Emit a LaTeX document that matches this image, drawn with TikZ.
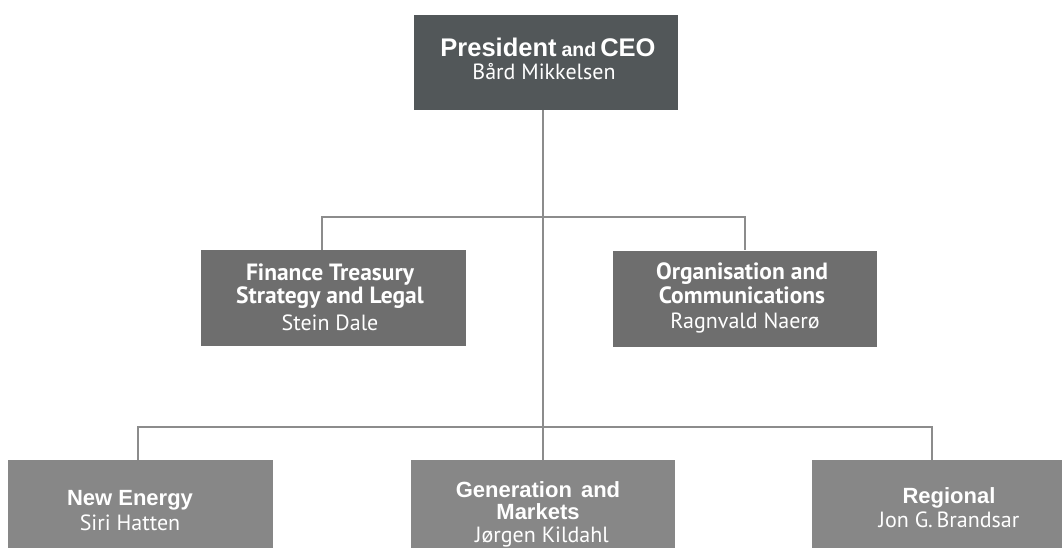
\documentclass[tikz,border=0pt]{standalone}
\usepackage{fontspec}
\setmainfont{PT Sans}
\newfontfamily\arialfont{Liberation Sans}
\definecolor{ceoc}{HTML}{525759}
\definecolor{midc}{HTML}{6E6E6E}
\definecolor{lowc}{HTML}{878787}
\definecolor{linec}{HTML}{8C8C8C}
\tikzset{
  orgbox/.style={rectangle, inner sep=0pt, minimum width=265pt, minimum height=96pt},
  ln/.style={anchor=base, inner sep=0pt, text=white},
  headA/.style={ln, font=\arialfont\bfseries\fontsize{22}{24}\selectfont},
  headB/.style={ln, font=\bfseries\fontsize{23.5}{26}\selectfont},
  who/.style={ln, font=\fontsize{22}{24}\selectfont},
  conn/.style={draw=linec, line width=1.5pt},
}
\begin{document}
\begin{tikzpicture}[x=1pt,y=-1pt]
\useasboundingbox (0,0) rectangle (1062,548);
\clip (0,0) rectangle (1062,548);
% boxes
\node[orgbox, fill=ceoc, minimum width=264pt, minimum height=95pt] (ceo) at (546,62.5) {};
\node[orgbox, fill=midc] (fin) at (333.5,298) {};
\node[orgbox, fill=midc, minimum width=264pt] (org) at (745,298.5) {};
\node[orgbox, fill=lowc, minimum height=95pt] (ne) at (140.5,507.5) {};
\node[orgbox, fill=lowc, minimum width=264pt, minimum height=95pt] (gen) at (543,507.5) {};
\node[orgbox, fill=lowc, minimum height=95pt] (reg) at (944.5,507.5) {};
% texts
\node[ln, font=\arialfont\bfseries\fontsize{25.5}{28}\selectfont] (ceo-t) at (548,57)
  {President\hspace{5pt}{\fontsize{19.5}{28}\selectfont and}\hspace{4pt}CEO};
\node[who] (ceo-n) at (544,80) {Bård Mikkelsen};
\node[headB] (fin-t1) at (330,280) {Finance Treasury};
\node[headB] (fin-t2) at (330,303) {Strategy and Legal};
\node[who] (fin-n) at (330,330) {Stein Dale};
\node[headB] (org-t1) at (742,279) {Organisation and};
\node[headB] (org-t2) at (742,303) {Communications};
\node[who] (org-n) at (745,328) {Ragnvald Naerø};
\node[headA] (ne-t) at (130,505) {New Energy};
\node[who] (ne-n) at (130,530) {Siri Hatten};
\node[headA] (gen-t1) at (538,497) {Generation\hspace{3pt} and};
\node[headA] (gen-t2) at (538,519) {Markets};
\node[who] (gen-n) at (542,542) {Jørgen Kildahl};
\node[headA] (reg-t) at (949,503) {Regional};
\node[who] (reg-n) at (949,527) {Jon G.\,Brandsar};
% connectors
\coordinate (j1) at (543,217);
\coordinate (j2) at (543,427);
\draw[conn] (ceo.south -| j1) -- (gen.north -| j1);
\draw[conn] (fin.north -| 322,0) |- (j1) -| (org.north -| 745,0);
\draw[conn] (ne.north -| 138,0) |- (j2) -| (reg.north -| 932,0);
\end{tikzpicture}
\end{document}
